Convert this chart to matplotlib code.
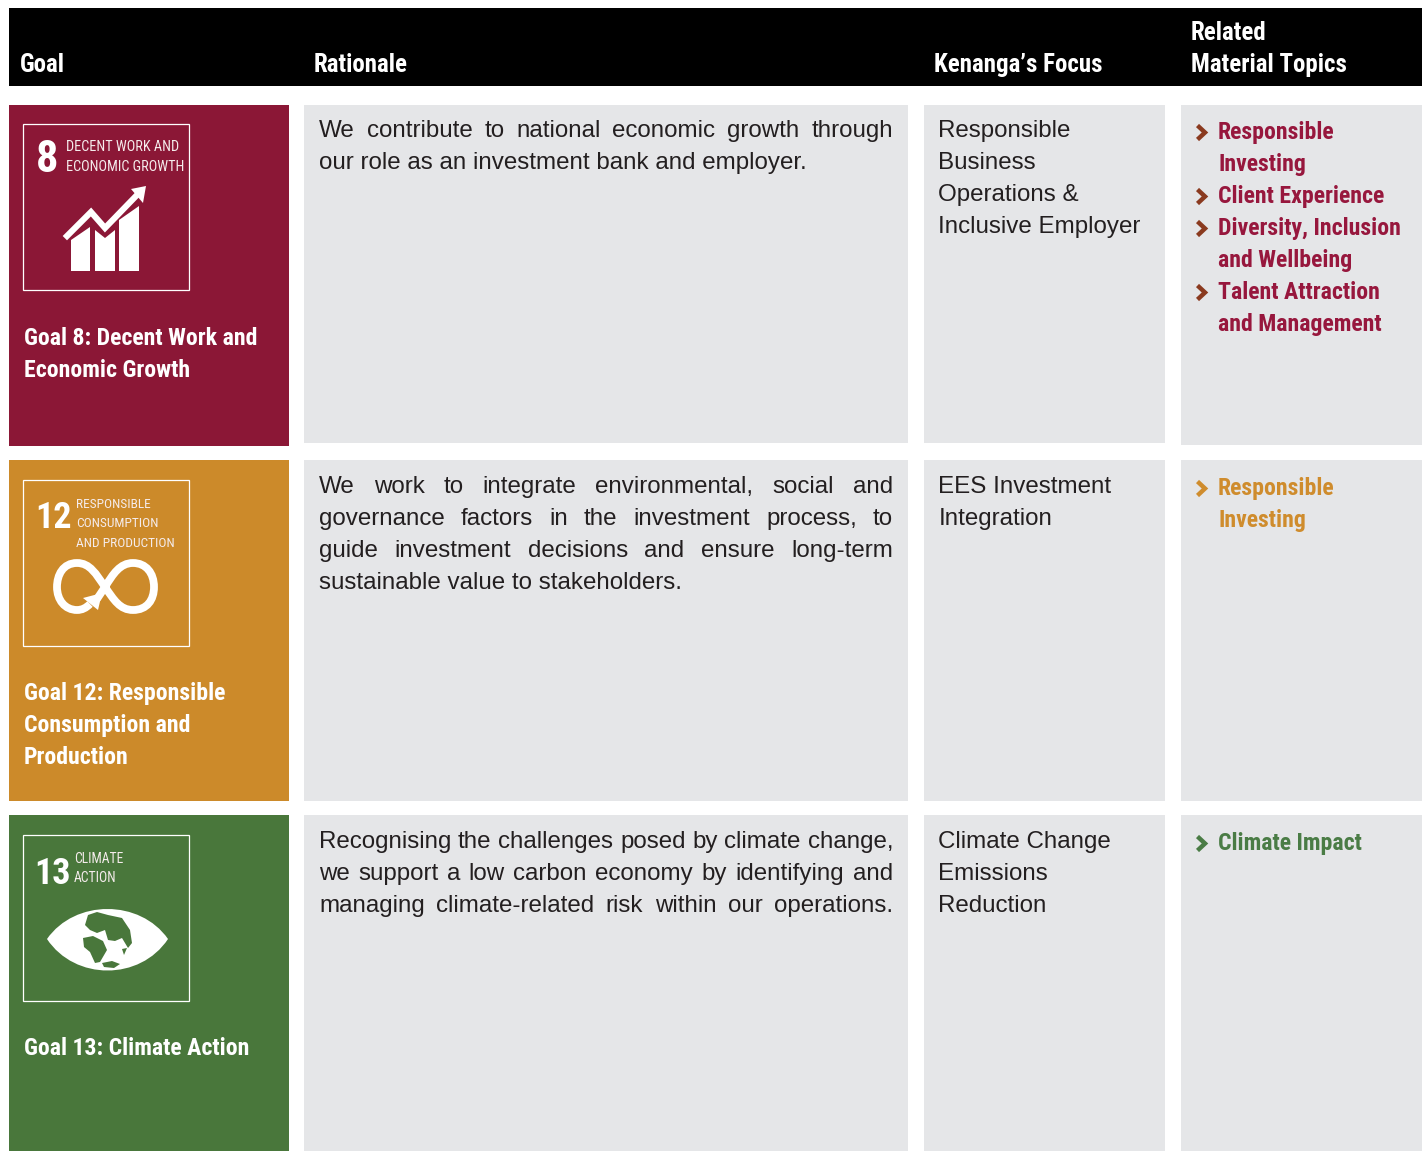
import matplotlib
matplotlib.use("Agg")
import matplotlib.pyplot as plt
from matplotlib.patches import Rectangle, Polygon, PathPatch
from matplotlib.path import Path

W, H = 1426, 1151

# table content
headers = ["Goal", "Rationale", "Kenanga\u2019s Focus", "Related\nMaterial Topics"]
goal_titles = [
    ["Goal 8: Decent Work and", "Economic Growth"],
    ["Goal 12: Responsible", "Consumption and", "Production"],
    ["Goal 13: Climate Action"],
]
rationale = [
    ["We contribute to national economic growth through", "our role as an investment bank and employer."],
    ["We work to integrate environmental, social and", "governance factors in the investment process, to",
     "guide investment decisions and ensure long-term", "sustainable value to stakeholders."],
    ["Recognising the challenges posed by climate change,", "we support a low carbon economy by identifying and",
     "managing climate-related risk within our operations."],
]
focus = [
    ["Responsible", "Business", "Operations &", "Inclusive Employer"],
    ["EES Investment", "Integration"],
    ["Climate Change", "Emissions", "Reduction"],
]
topics = [
    [["Responsible", "Investing"], ["Client Experience"], ["Diversity, Inclusion", "and Wellbeing"],
     ["Talent Attraction", "and Management"]],
    [["Responsible", "Investing"]],
    [["Climate Impact"]],
]
row_colors = ["#8B1736", "#CC8A2A", "#49773B"]
topic_colors = ["#97173D", "#CF8C2D", "#4A7C45"]
chevron_colors = ["#8A3A1F", "#CF8C2D", "#4A7C45"]
GREY = "#E5E6E8"

# layout, in pixels
row_tops = [105, 460, 815]
row_bottoms = [446, 801, 1151]
grey_bottoms = [443, 801, 1151]
col_x = [(9, 289), (304, 908), (924, 1165), (1181, 1422)]
topic_base = [34, 35, 35]
body_base = [32, 33, 33]
LINE = 32

BODY = ["Liberation Sans", "DejaVu Sans"]
NARROW = ["Liberation Sans Narrow", "Roboto Condensed", "Liberation Sans"]
BODY_SIZE = 17.4
TOPIC_SIZE = 17.1
HEAD_SIZE = 17.9

fig = plt.figure(figsize=(W / 100, H / 100), dpi=100)
ax = fig.add_axes([0, 0, 1, 1])
ax.set_xlim(0, W)
ax.set_ylim(H, 0)
ax.axis("off")


def rect(x0, y0, x1, y1, color):
    ax.add_patch(Rectangle((x0, y0), x1 - x0, y1 - y0, fc=color, ec="none"))


def word(x, y, s, **kw):
    return ax.text(x, y, s, va="baseline", ha="left", **kw)


def justified(x0, x1, y, line, **kw):
    # spread the words of one line across the column
    words = line.split(" ")
    r = fig.canvas.get_renderer()
    items = [word(x0, y, w, **kw) for w in words]
    widths = [t.get_window_extent(r).width for t in items]
    gap = (x1 - x0 - sum(widths)) / (len(words) - 1)
    x = x0
    for t, wd in zip(items, widths):
        t.set_x(x)
        x += wd + gap


def icon_8():
    ax.add_patch(Polygon([(71, 240), (90, 227), (90, 271), (71, 271)], fc="white", ec="none"))
    ax.add_patch(Polygon([(95, 230), (105, 238), (115, 230), (115, 271), (95, 271)], fc="white", ec="none"))
    ax.add_patch(Polygon([(119, 220), (139, 206), (139, 271), (119, 271)], fc="white", ec="none"))
    ax.plot([67, 91, 105, 137], [236, 212, 228, 195], color="white", lw=4.4, solid_joinstyle="miter")
    ax.add_patch(Polygon([(146, 186), (131, 189), (143, 203)], fc="white", ec="none"))


def icon_12():
    v = [(105, 587), (96, 574), (90, 563), (77, 563), (63, 563), (57, 575), (57, 587),
         (57, 600), (65, 610), (77, 610), (82, 610), (86, 608), (90, 604)]
    c = [Path.MOVETO] + [Path.CURVE4] * 12
    ax.add_patch(PathPatch(Path(v, c), fc="none", ec="white", lw=5.6))
    v = [(97, 599), (101, 593), (105, 587), (105, 587), (114, 600), (120, 610), (133, 610),
         (147, 610), (154, 600), (154, 587), (154, 573), (146, 563), (133, 563),
         (120, 563), (113, 574), (105, 587)]
    c = [Path.MOVETO] + [Path.CURVE4] * 15
    ax.add_patch(PathPatch(Path(v, c), fc="none", ec="white", lw=5.6))
    ax.add_patch(Polygon([(83, 598), (102, 593), (98, 610)], fc="white", ec="none"))


def icon_13():
    v = [(47, 939), (75, 899), (140, 899), (168, 939), (140, 981), (75, 981), (47, 939)]
    c = [Path.MOVETO] + [Path.CURVE4] * 6
    ax.add_patch(PathPatch(Path(v, c), fc="white", ec="none"))
    land = [
        [(88, 915), (97, 912), (108, 915), (122, 918), (130, 930), (132, 943), (128, 948), (122, 938),
         (115, 941), (108, 940), (105, 930), (97, 933), (90, 930), (85, 925)],
        [(83, 938), (93, 936), (103, 941), (107, 950), (100, 962), (95, 963), (90, 952), (84, 947)],
        [(102, 963), (112, 961), (120, 964), (114, 968), (104, 967)],
        [(122, 949), (127, 948), (124, 955)],
    ]
    for pts in land:
        ax.add_patch(Polygon(pts, fc=row_colors[2], ec="none"))


rect(9, 8, 1422, 86, "black")
head_x = [19.5, 314, 934, 1191]
for x, h in zip(head_x, headers):
    lines = h.split("\n")
    for i, s in enumerate(reversed(lines)):
        word(x, 72 - i * LINE, s, color="white", family=NARROW, weight="bold", fontsize=HEAD_SIZE)

for i in range(3):
    top = row_tops[i]
    rect(col_x[0][0], top, col_x[0][1], row_bottoms[i], row_colors[i])
    rect(col_x[1][0], top, col_x[1][1], grey_bottoms[i], GREY)
    rect(col_x[2][0] - 0.5, top, col_x[2][1], grey_bottoms[i], GREY)
    rect(col_x[3][0] - 0.5, top, col_x[3][1], row_bottoms[i] - (1 if i == 0 else 0), GREY)

    # SDG tile
    box_top = top + (18 if i == 0 else 19)
    ax.add_patch(Rectangle((23, box_top + 0.5), 166, 166, fc="none", ec="white", lw=0.9))

    for j, s in enumerate(goal_titles[i]):
        word(24, top + 240 + j * LINE, s, color="white", family=NARROW, weight="bold", fontsize=TOPIC_SIZE)

    base = top + body_base[i]
    for j, s in enumerate(rationale[i]):
        kw = dict(color="#231F20", family=BODY, fontsize=BODY_SIZE)
        if j < len(rationale[i]) - 1 or i == 2:
            justified(319, 893, base + j * LINE, s, **kw)
        else:
            word(319, base + j * LINE, s, **kw)
    for j, s in enumerate(focus[i]):
        word(938.5, base + j * LINE, s, color="#231F20", family=BODY, fontsize=BODY_SIZE)

    n = 0
    for item in topics[i]:
        y = top + topic_base[i] + n * LINE
        ax.plot([1197.5, 1205, 1197.5], [y - 13.5, y - 6.5, y + 0.5], color=chevron_colors[i], lw=3.2,
                solid_joinstyle="miter", solid_capstyle="butt")
        for s in item:
            word(1218, top + topic_base[i] + n * LINE, s, color=topic_colors[i], family=NARROW, weight="bold",
                 fontsize=TOPIC_SIZE)
            n += 1

# tile captions
tile = dict(color="#F5ECEC", family=NARROW, va="baseline", ha="left")
num = dict(color="white", family=NARROW, weight="bold", va="baseline")
ax.text(36, 172, "8", fontsize=32, **num)
ax.text(66, 150.5, "DECENT WORK AND", fontsize=10.3, **tile)
ax.text(66, 170.5, "ECONOMIC GROWTH", fontsize=10.3, **tile)
ax.text(35, 528, "12", fontsize=26, **num)
ax.text(76, 507.5, "RESPONSIBLE", fontsize=9.65, **tile)
ax.text(76, 526.5, "CONSUMPTION", fontsize=9.65, **tile)
ax.text(76, 546.5, "AND PRODUCTION", fontsize=9.65, **tile)
ax.text(34, 884, "13", fontsize=26, **num)
ax.text(74, 862.5, "CLIMATE", fontsize=9.8, **tile)
ax.text(74, 881.5, "ACTION", fontsize=9.8, **tile)

icon_8()
icon_12()
icon_13()

fig.savefig("out.png", dpi=100)
